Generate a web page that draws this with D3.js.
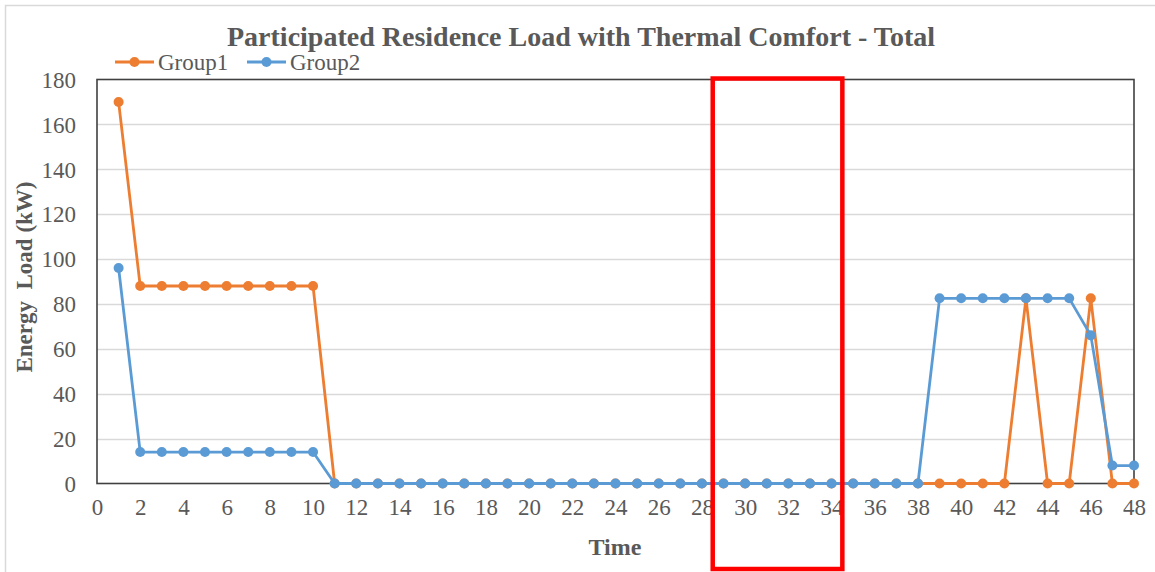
<!DOCTYPE html>
<html>
<head>
<meta charset="utf-8">
<script src="https://cdn.jsdelivr.net/npm/d3@7"></script>
<style>
  html, body { margin: 0; padding: 0; background: #fff; }
  svg { display: block; }
  svg text { font-family: 'Liberation Serif', 'Times New Roman', serif; fill: #595959; }
</style>
</head>
<body>
<svg id="chart" width="1155" height="572"></svg>
<script>
// Time steps 1..48
const times = d3.range(1, 49);

// Group1 load (kW) per time step
const group1 = [
  170, 88, 88, 88, 88, 88, 88, 88, 88, 88,
  0, 0, 0, 0, 0, 0, 0, 0, 0, 0,
  0, 0, 0, 0, 0, 0, 0, 0, 0, 0,
  0, 0, 0, 0, 0, 0, 0, 0, 0, 0,
  0, 0, 82.5, 0, 0, 82.5, 0, 0
];

// Group2 load (kW) per time step
const group2 = [
  96, 14, 14, 14, 14, 14, 14, 14, 14, 14,
  0, 0, 0, 0, 0, 0, 0, 0, 0, 0,
  0, 0, 0, 0, 0, 0, 0, 0, 0, 0,
  0, 0, 0, 0, 0, 0, 0, 0, 82.5, 82.5,
  82.5, 82.5, 82.5, 82.5, 82.5, 66, 8, 8
];

const xTicks = d3.range(0, 49, 2);
const yTicks = d3.range(0, 181, 20);

// Highlighted time window (time units)
const highlightRange = [28.5, 34.5];

const seriesNames = ["Group1", "Group2"];
const colors = ["#ED7D31", "#5B9BD5"];

const svg = d3.select("#chart");
const W = 1155, H = 572;
const plot = { left: 97, right: 1134, top: 79.5, bottom: 483.5 };

const x = d3.scaleLinear().domain([0, 48]).range([plot.left, plot.right]);
const y = d3.scaleLinear().domain([0, 180]).range([plot.bottom, plot.top]);

// Outer frame
svg.append("rect")
  .attr("x", 5.5).attr("y", 5.5)
  .attr("width", W + 10).attr("height", H + 10)
  .attr("fill", "#fff")
  .attr("stroke", "#d9d9d9").attr("stroke-width", 1.5);

// Horizontal gridlines
svg.append("g")
  .selectAll("line")
  .data(yTicks.filter(v => v > 0 && v < 180))
  .join("line")
  .attr("x1", plot.left).attr("x2", plot.right)
  .attr("y1", d => Math.round(y(d)) + 0.5).attr("y2", d => Math.round(y(d)) + 0.5)
  .attr("stroke", "#d9d9d9").attr("stroke-width", 1.5);

// Y axis
const yAxis = svg.append("g")
  .attr("transform", `translate(${plot.left},0)`)
  .call(d3.axisLeft(y).tickValues(yTicks).tickSize(0).tickPadding(21));
yAxis.select(".domain").remove();
yAxis.selectAll("text")
  .style("font-size", "23px")
  .attr("dy", "0.34em");

// X axis
const xAxis = svg.append("g")
  .attr("transform", `translate(0,${plot.bottom})`)
  .call(d3.axisBottom(x).tickValues(xTicks).tickSize(0).tickPadding(15));
xAxis.select(".domain").remove();
xAxis.selectAll("text")
  .style("font-size", "23px");

// Plot frame
svg.append("rect")
  .attr("x", plot.left).attr("y", plot.top)
  .attr("width", plot.right - plot.left).attr("height", plot.bottom - plot.top)
  .attr("fill", "none")
  .attr("stroke", "#404040").attr("stroke-width", 1.6);

// Series lines and markers
const allSeries = [group1, group2];
const line = d3.line().x((d, i) => x(times[i])).y(d => y(d));

allSeries.forEach((vals, s) => {
  const g = svg.append("g");
  g.append("path")
    .datum(vals)
    .attr("d", line)
    .attr("fill", "none")
    .attr("stroke", colors[s])
    .attr("stroke-width", 2.8)
    .attr("stroke-linejoin", "round");
  g.selectAll("circle")
    .data(vals)
    .join("circle")
    .attr("cx", (d, i) => x(times[i]))
    .attr("cy", d => y(d))
    .attr("r", 5)
    .attr("fill", colors[s]);
});

// Highlight box around the selected time window
svg.append("rect")
  .attr("x", x(highlightRange[0])).attr("y", 78.5)
  .attr("width", x(highlightRange[1]) - x(highlightRange[0]))
  .attr("height", 569 - 78.5)
  .attr("fill", "none")
  .attr("stroke", "#ff0000").attr("stroke-width", 4.5);

// Title
svg.append("text")
  .attr("x", 581).attr("y", 46)
  .attr("text-anchor", "middle")
  .style("font-weight", "bold").style("font-size", "28px")
  .text("Participated Residence Load with Thermal Comfort - Total");

// Legend
const legendItems = [
  { name: seriesNames[0], color: colors[0], x0: 115 },
  { name: seriesNames[1], color: colors[1], x0: 247 }
];
const lg = svg.append("g");
legendItems.forEach(it => {
  lg.append("line")
    .attr("x1", it.x0).attr("x2", it.x0 + 39)
    .attr("y1", 62).attr("y2", 62)
    .attr("stroke", it.color).attr("stroke-width", 2.8);
  lg.append("circle")
    .attr("cx", it.x0 + 19.5).attr("cy", 62).attr("r", 5)
    .attr("fill", it.color);
  lg.append("text")
    .attr("x", it.x0 + 43).attr("y", 70)
    .style("font-size", "23px")
    .text(it.name);
});

// Axis titles
svg.append("text")
  .attr("x", 615).attr("y", 555)
  .attr("text-anchor", "middle")
  .style("font-weight", "bold").style("font-size", "24px")
  .text("Time");

svg.append("text")
  .attr("transform", "translate(32,277) rotate(-90)")
  .attr("text-anchor", "middle")
  .style("font-weight", "bold").style("font-size", "23px")
  .style("white-space", "pre")
  .text("Energy  Load (kW)");
</script>
</body>
</html>
